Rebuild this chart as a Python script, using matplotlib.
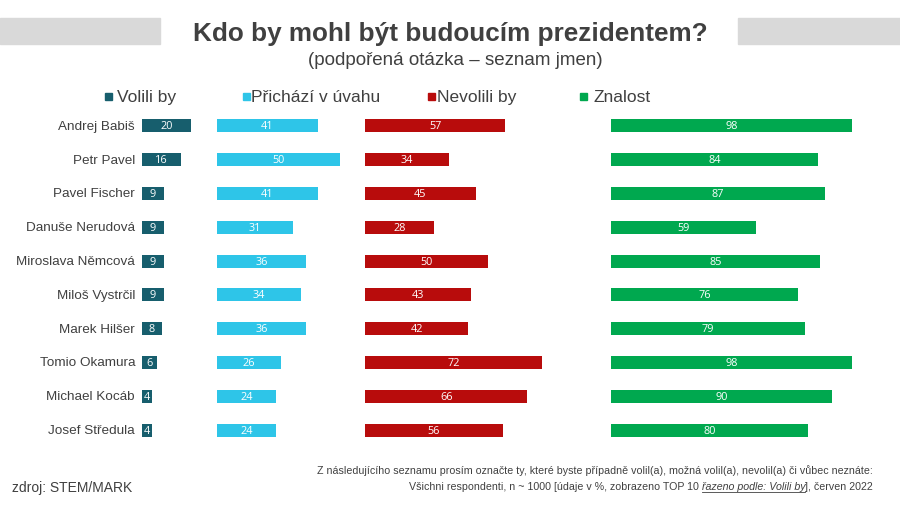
import matplotlib.pyplot as plt
from matplotlib.patches import Rectangle
import matplotlib

matplotlib.rcParams['font.family'] = ['Liberation Sans', 'DejaVu Sans']

names = ["Andrej Babiš", "Petr Pavel", "Pavel Fischer", "Danuše Nerudová",
         "Miroslava Němcová", "Miloš Vystrčil", "Marek Hilšer", "Tomio Okamura",
         "Michael Kocáb", "Josef Středula"]
volili = [20, 16, 9, 9, 9, 9, 8, 6, 4, 4]
prichazi = [41, 50, 41, 31, 36, 34, 36, 26, 24, 24]
nevolili = [57, 34, 45, 28, 50, 43, 42, 72, 66, 56]
znalost = [98, 84, 87, 59, 85, 76, 79, 98, 90, 80]
series_names = ["Volili by", "Přichází v úvahu", "Nevolili by", "Znalost"]
colors = ["#175e6d", "#2ec5e8", "#b80c0c", "#00a84f"]

W, H = 900, 506
fig = plt.figure(figsize=(9, 5.06), dpi=100)
TXT = "#404040"

# one axes, groups shifted along x (2.46 px per percent)
px = 2.46
ax_left, ax_right = 142, 880
ax = fig.add_axes([ax_left / W, 1 - 448 / H, (ax_right - ax_left) / W, 338 / H])
ax.set_xlim(0, (ax_right - ax_left) / px)
ax.set_ylim(len(names) - 0.5, -0.5)
ax.axis("off")

offsets = [0, (217 - 142) / px, (365 - 142) / px, (611 - 142) / px]
data = [volili, prichazi, nevolili, znalost]
ypos = list(range(len(names)))
for vals, off, col in zip(data, offsets, colors):
    ax.barh(ypos, vals, left=off, height=0.39, color=col)
    for y, v in zip(ypos, vals):
        ax.text(off + v / 2, y, str(v), ha="center", va="center",
                color="white", fontsize=7.8, family=["Open Sans"])

for y, n in zip(ypos, names):
    ax.text(-7 / px, y, n, ha="right", va="center", fontsize=9.7, color=TXT)

# title bands
fig.patches.append(Rectangle((0, 1 - 45 / H), 160 / W, 26 / H,
                             transform=fig.transFigure, color="#d9d9d9"))
fig.patches.append(Rectangle((738 / W, 1 - 45 / H), 162 / W, 26 / H,
                             transform=fig.transFigure, color="#d9d9d9"))
fig.text(450 / W, 1 - 41 / H, "Kdo by mohl být budoucím prezidentem?", ha="center",
         va="baseline", fontsize=18.8, fontweight="bold", color=TXT)
fig.text(455 / W, 1 - 65 / H, "(podpořená otázka – seznam jmen)", ha="center",
         va="baseline", fontsize=13.5, color=TXT)

# legend
leg_sq = [105, 243, 428, 580]
leg_tx = [117, 251, 437, 593]
for sx, tx, lab, col in zip(leg_sq, leg_tx, series_names, colors):
    fig.patches.append(Rectangle((sx / W, 1 - 101 / H), 7 / W, 7 / H,
                                 transform=fig.transFigure, color=col))
    fig.text(tx / W, 1 - 102 / H, lab, ha="left", va="baseline",
             fontsize=12.5, color=TXT)

fig.text(12 / W, 1 - 492 / H, "zdroj: STEM/MARK", ha="left", va="baseline",
         fontsize=10, color=TXT)

foot = ["Liberation Sans Narrow", "Liberation Sans"]
fig.text(873 / W, 1 - 474 / H,
         "Z následujícího seznamu prosím označte ty, které byste případně volil(a), možná volil(a), nevolil(a) či vůbec neznáte:",
         ha="right", va="baseline", fontsize=7.7, color=TXT, family=foot)

# second footer line in three pieces, placed right to left
r = fig.canvas.get_renderer()
x = 873
pieces = [("], červen 2022", "normal"), ("řazeno podle: Volili by", "italic"),
          ("Všichni respondenti, n ~ 1000 [údaje v %, zobrazeno TOP 10 ", "normal")]
for s, st in pieces:
    t = fig.text(x / W, 1 - 490 / H, s, ha="right", va="baseline", fontsize=7.7,
                 color=TXT, family=foot, style=st)
    bb = t.get_window_extent(renderer=r)
    if st == "italic":
        fig.add_artist(plt.Line2D([bb.x0 / W, bb.x1 / W],
                                  [(bb.y0 - 0.5) / H, (bb.y0 - 0.5) / H],
                                  transform=fig.transFigure, color=TXT, lw=0.6))
    x = bb.x0

fig.savefig("out.png", dpi=100)
